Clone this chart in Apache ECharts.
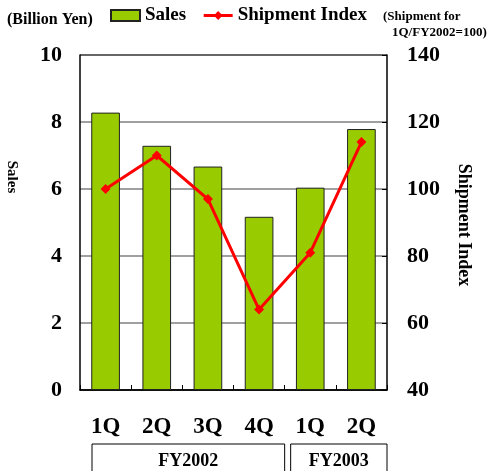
<!DOCTYPE html>
<html>
<head>
<meta charset="utf-8">
<script src="https://cdn.jsdelivr.net/npm/echarts@6/dist/echarts.min.js"></script>
<style>
  html, body { margin: 0; padding: 0; background: #fff; }
  #chart { width: 489px; height: 471px; }
</style>
</head>
<body>
<div id="chart"></div>
<script>
// Quarterly sales (billion yen) and shipment index (1Q/FY2002 = 100)
const quarters = ['1Q', '2Q', '3Q', '4Q', '1Q', '2Q'];
const sales = [8.28, 7.29, 6.67, 5.17, 6.04, 7.79];
const shipmentIndex = [100, 110, 97, 64, 81, 114];
const fiscalYears = ['FY2002', 'FY2003'];
const quartersPerYear = [4, 2];

const serif = '"Liberation Serif", "Times New Roman", serif';
const chart = echarts.init(document.getElementById('chart'), null, { renderer: 'canvas' });

const option = {
  animation: false,
  backgroundColor: '#fff',
  grid: { left: 80, right: 102, top: 55, bottom: 81 },
  legend: {
    left: 110,
    top: 6,
    padding: 0,
    itemWidth: 29,
    itemHeight: 11,
    itemGap: 16,
    textStyle: { fontFamily: serif, fontWeight: 'bold', fontSize: 19, color: '#000' },
    data: [
      { name: 'Sales', icon: 'rect' },
      { name: 'Shipment Index', lineStyle: { width: 3 } }
    ]
  },
  xAxis: {
    type: 'category',
    data: quarters,
    boundaryGap: true,
    axisLine: { lineStyle: { color: '#000', width: 1.5 } },
    axisTick: { show: true, inside: true, length: 5, lineStyle: { color: '#000' } },
    axisLabel: { fontFamily: serif, fontWeight: 'bold', fontSize: 23, color: '#000', margin: 26 }
  },
  yAxis: [
    {
      type: 'value', min: 0, max: 10, interval: 2,
      axisLine: { show: true, lineStyle: { color: '#000', width: 1.5 } },
      axisTick: { show: false },
      axisLabel: { fontFamily: serif, fontWeight: 'bold', fontSize: 22, color: '#000', margin: 18 },
      splitLine: {
        show: true,
        lineStyle: { color: ['#000', '#808080', '#808080', '#808080', '#808080', '#333'], width: 1.5 }
      }
    },
    {
      type: 'value', min: 40, max: 140, interval: 20,
      axisLine: { show: true, lineStyle: { color: '#000', width: 1.5 } },
      axisTick: { show: true, inside: true, length: 5, lineStyle: { color: '#000' } },
      axisLabel: { fontFamily: serif, fontWeight: 'bold', fontSize: 22, color: '#000', margin: 20 },
      splitLine: { show: false }
    }
  ],
  series: [
    {
      name: 'Sales',
      type: 'bar',
      yAxisIndex: 0,
      data: sales,
      barWidth: '56%',
      itemStyle: { color: '#99CC00', borderColor: '#222', borderWidth: 1 }
    },
    {
      name: 'Shipment Index',
      type: 'line',
      yAxisIndex: 1,
      data: shipmentIndex,
      symbol: 'diamond',
      symbolSize: 10,
      lineStyle: { color: '#FF0000', width: 3 },
      itemStyle: { color: '#FF0000' },
      z: 5
    }
  ]
};
chart.setOption(option);

// Fiscal-year brackets below the quarter labels, placed from the category scale
function yearBrackets() {
  const c0 = chart.convertToPixel({ xAxisIndex: 0 }, 0);
  const c1 = chart.convertToPixel({ xAxisIndex: 0 }, 1);
  const band = c1 - c0;
  const insets = [12, 6];
  const els = [];
  let start = 0;
  fiscalYears.forEach((fy, i) => {
    const x0 = c0 - band / 2 + start * band + insets[i];
    const x1 = c0 - band / 2 + (start + quartersPerYear[i]) * band;
    els.push({
      type: 'rect',
      shape: { x: x0, y: 444, width: x1 - x0, height: 40 },
      style: { fill: 'none', stroke: '#000', lineWidth: 1 }
    });
    els.push({
      type: 'text',
      x: (x0 + x1) / 2, y: 461,
      style: {
        text: fy, fontFamily: serif, fontWeight: 'bold', fontSize: 18,
        fill: '#000', align: 'center', verticalAlign: 'middle'
      }
    });
    start += quartersPerYear[i];
  });
  return els;
}

const notes = [
  {
    type: 'text', x: 7, y: 20,
    style: { text: '(Billion Yen)', fontFamily: serif, fontWeight: 'bold', fontSize: 16, fill: '#000', verticalAlign: 'middle' }
  },
  {
    type: 'text', x: 383, y: 17,
    style: { text: '(Shipment for', fontFamily: serif, fontWeight: 'bold', fontSize: 13, fill: '#000', verticalAlign: 'middle' }
  },
  {
    type: 'text', x: 392, y: 33,
    style: { text: '1Q/FY2002=100)', fontFamily: serif, fontWeight: 'bold', fontSize: 13, fill: '#000', verticalAlign: 'middle' }
  },
  {
    type: 'text', x: 12, y: 177, rotation: -Math.PI / 2,
    style: { text: 'Sales', fontFamily: serif, fontWeight: 'bold', fontSize: 15, fill: '#000', align: 'center', verticalAlign: 'middle' }
  },
  {
    type: 'text', x: 464, y: 225, rotation: -Math.PI / 2,
    style: { text: 'Shipment Index', fontFamily: serif, fontWeight: 'bold', fontSize: 18, fill: '#000', align: 'center', verticalAlign: 'middle' }
  }
];

chart.setOption({ graphic: notes.concat(yearBrackets()) });
</script>
</body>
</html>
